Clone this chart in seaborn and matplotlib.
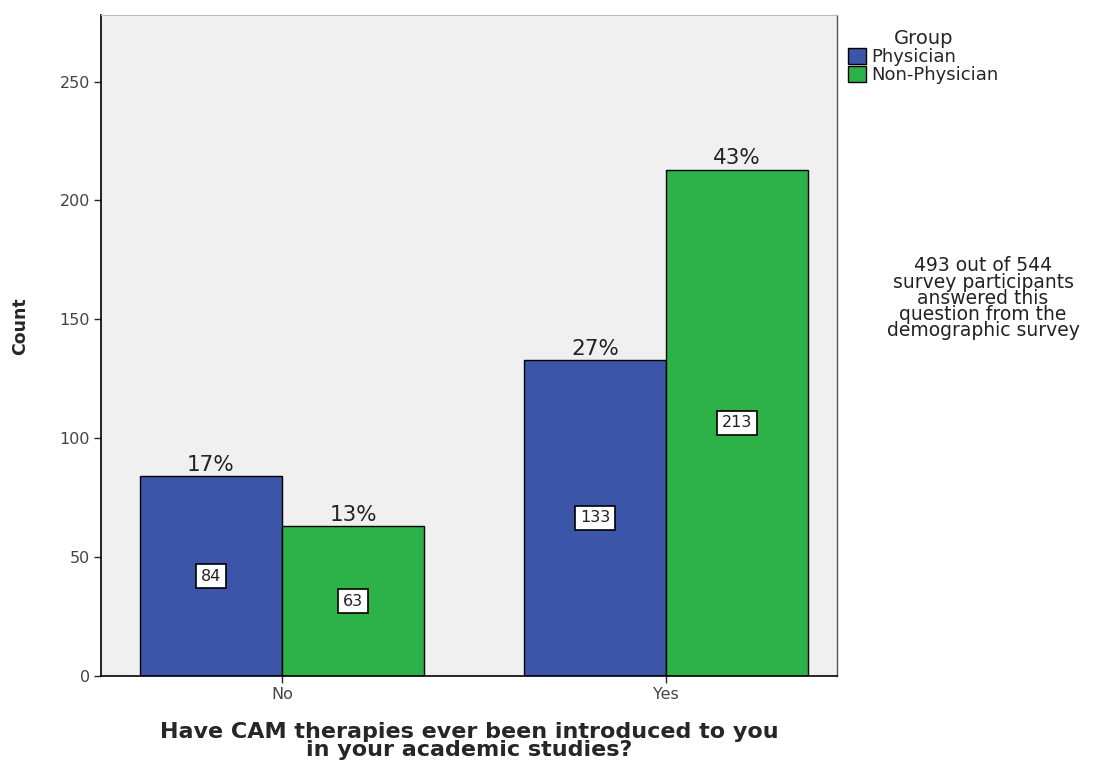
import matplotlib
matplotlib.use("Agg")
import matplotlib.pyplot as plt
import seaborn as sns
import pandas as pd

answers = ["No", "Yes"]
groups = ["Physician", "Non-Physician"]
counts_physician = [84, 133]
counts_nonphysician = [63, 213]
pct_physician = ["17%", "27%"]
pct_nonphysician = ["13%", "43%"]
palette = ["#3B55A8", "#2DB24A"]

df = pd.DataFrame({
    "answer": answers * 2,
    "group": [groups[0]] * 2 + [groups[1]] * 2,
    "count": counts_physician + counts_nonphysician,
    "pct": pct_physician + pct_nonphysician,
})

sns.set_style("white")
plt.rcParams["font.family"] = ["DejaVu Sans"]

fig = plt.figure(figsize=(10.96, 7.67), dpi=100)
ax = fig.add_axes([0.0922, 0.1186, 0.6715, 0.8618])
ax.set_facecolor("#F0F0F0")

sns.barplot(data=df, x="answer", y="count", hue="group", hue_order=groups,
            order=answers, palette=palette, width=0.74, edgecolor="black",
            linewidth=1.0, saturation=1, ax=ax)

# labels: percent on top, count boxed in middle
for cont, (_, sub) in zip(ax.containers, df.groupby("group", sort=False)):
    for bar, (_, row) in zip(cont, sub.iterrows()):
        xc = bar.get_x() + bar.get_width() / 2
        h = bar.get_height()
        ax.text(xc, h + 0.5, row["pct"], ha="center", va="bottom", fontsize=15.5, color="#222222")
        ax.text(xc, h / 2, str(row["count"]), ha="center", va="center", fontsize=11.5,
                color="#222222",
                bbox=dict(boxstyle="square,pad=0.3", fc="white", ec="black", lw=1.2))

ax.set_xlim(-0.471, 1.445)
ax.set_ylim(0, 278)
ax.set_yticks([0, 50, 100, 150, 200, 250])
ax.tick_params(axis="both", which="both", direction="out", length=5, width=1,
               labelsize=11.5, labelcolor="#444444", left=True, bottom=True, pad=3)
for side in ["left", "bottom"]:
    ax.spines[side].set_color("black")
    ax.spines[side].set_linewidth(1.2)
ax.spines["top"].set_color("#bbbbbb")
ax.spines["top"].set_linewidth(0.8)
ax.spines["right"].set_color("#555555")
ax.spines["right"].set_linewidth(1.0)

ax.set_ylabel("Count", fontsize=12.5, fontweight="bold")
ax.yaxis.set_label_coords(-0.098, 0.53)
ax.set_xlabel("Have CAM therapies ever been introduced to you\nin your academic studies?",
              fontsize=16, fontweight="bold", labelpad=14, linespacing=0.92)

leg = ax.legend(title="Group", loc="upper left", bbox_to_anchor=(1.005, 0.99),
                frameon=False, fontsize=13, title_fontsize=14, handlelength=1.0,
                handleheight=1.0, handletextpad=0.3, labelspacing=0.0,
                borderaxespad=0, alignment="center")

fig.text(0.897, 0.611, "493 out of 544\nsurvey participants\nanswered this\nquestion from the\ndemographic survey",
         ha="center", va="center", fontsize=13.5, linespacing=0.82, color="#222222")

fig.savefig("out.png", dpi=100)
